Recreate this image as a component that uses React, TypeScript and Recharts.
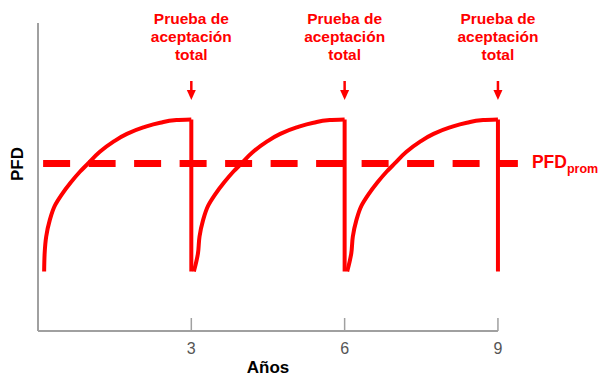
import { ComposedChart, Line, Scatter, XAxis, YAxis, ReferenceLine } from 'recharts'

// one renewal cycle (years since test, PFD in %)
const cycleOffsets = [0.13, 0.16, 0.23, 0.33, 0.46, 0.64, 0.82, 0.98, 1.21, 1.47, 1.74, 2.06, 2.39, 2.71, 3.0]
const cycleValues = [25.2, 30.6, 36.0, 40.7, 44.2, 48.2, 51.7, 54.4, 58.2, 61.4, 64.0, 66.1, 67.6, 68.5, 68.7]
const cycleStarts = [0, 3, 6]
const cycleLags = [0.12, 0.05, 0.05]
const resetValue = 19.3
const testYears = [3, 6, 9]
const xTicks = [3, 6, 9]
const pfdAvg = 54.4
const avgSpan = [0.1, 9.39]
const arrowTip = 75

const RED = '#ff0000'
const AXIS = '#a0a0a0'
const FONT = '"Liberation Sans", Arial, sans-serif'

const cycles = cycleStarts.map((s, k) => [
  { x: s + cycleLags[k], y: resetValue },
  ...cycleOffsets.map((o, i) => ({ x: s + o, y: cycleValues[i] })),
])
const drops = testYears.map((t) => [
  { x: t, y: cycleValues[cycleValues.length - 1] },
  { x: t, y: resetValue },
])
const avgLine = avgSpan.map((x) => ({ x, y: pfdAvg }))
const testPoints = testYears.map((x) => ({ x, y: arrowTip }))
const avgLabelPoint = [{ x: avgSpan[1], y: pfdAvg }]

function XTick(props: any) {
  const { x, y, payload } = props
  return (
    <g>
      <line x1={x} x2={x} y1={y - 13} y2={y} stroke={AXIS} strokeWidth={1.5} />
      <text x={x} y={y + 23} textAnchor="middle" fontSize={16} fill="#555" fontFamily={FONT}>
        {payload.value}
      </text>
    </g>
  )
}

function TestMark(props: any) {
  const { cx, cy } = props
  return (
    <g>
      <text textAnchor="middle" fontSize={15.5} fontWeight="bold" fill={RED} fontFamily={FONT}>
        <tspan x={cx} y={cy - 76.5}>Prueba de</tspan>
        <tspan x={cx} y={cy - 58.5}>aceptación</tspan>
        <tspan x={cx} y={cy - 40.5}>total</tspan>
      </text>
      <line x1={cx} x2={cx} y1={cy - 19} y2={cy - 8} stroke={RED} strokeWidth={2.5} />
      <polygon points={`${cx - 4.5},${cy - 10} ${cx + 4.5},${cy - 10} ${cx},${cy}`} fill={RED} />
    </g>
  )
}

function AvgLabel(props: any) {
  const { cx, cy } = props
  return (
    <text x={cx + 14} y={cy + 5} fontWeight="bold" fill={RED} fontFamily={FONT}>
      <tspan fontSize={17.5}>PFD</tspan>
      <tspan fontSize={12.5} dy={5}>prom</tspan>
    </text>
  )
}

export default function App() {
  return (
    <div style={{ position: 'absolute', left: 0, top: 0, width: 599, height: 377, background: '#fff' }}>
      <ComposedChart width={599} height={377} margin={{ top: 23, right: 75.5, left: 38, bottom: 0 }}>
        <XAxis
          type="number"
          dataKey="x"
          domain={[0, 9.5]}
          ticks={xTicks}
          axisLine={false}
          tickLine={false}
          tickSize={0}
          tickMargin={0}
          height={46}
          tick={<XTick />}
          label={{
            content: (p: any) => {
              const vb = p.viewBox || { x: 38, width: 485.5 }
              return (
                <text x={vb.x + (vb.width * 4.5) / 9.5} y={373} textAnchor="middle" fontSize={17} fontWeight="bold" fill="#000" fontFamily={FONT}>
                  Años
                </text>
              )
            },
          }}
        />
        <YAxis type="number" dataKey="y" domain={[0, 100]} width={0} hide />
        <ReferenceLine
          segment={[{ x: 0, y: 0 }, { x: 0, y: 100 }]}
          stroke={AXIS}
          strokeWidth={2}
          label={{
            content: () => (
              <text x={23} y={164} transform="rotate(-90, 23, 164)" textAnchor="middle" fontSize={17} fontWeight="bold" fill="#000" fontFamily={FONT}>
                PFD
              </text>
            ),
          }}
        />
        <ReferenceLine segment={[{ x: 0, y: 0 }, { x: 9, y: 0 }]} stroke={AXIS} strokeWidth={2} />
        <Line
          data={avgLine}
          dataKey="y"
          type="linear"
          stroke={RED}
          strokeWidth={7}
          strokeDasharray="27 18.5"
          dot={false}
          isAnimationActive={false}
        />
        {cycles.map((c, i) => (
          <Line key={'c' + i} data={c} dataKey="y" type="monotoneY" stroke={RED} strokeWidth={4} dot={false} isAnimationActive={false} />
        ))}
        {drops.map((d, i) => (
          <Line key={'d' + i} data={d} dataKey="y" type="linear" stroke={RED} strokeWidth={4} dot={false} isAnimationActive={false} />
        ))}
        <Scatter data={testPoints} dataKey="y" shape={<TestMark />} isAnimationActive={false} />
        <Scatter data={avgLabelPoint} dataKey="y" shape={<AvgLabel />} isAnimationActive={false} />
      </ComposedChart>
    </div>
  )
}
